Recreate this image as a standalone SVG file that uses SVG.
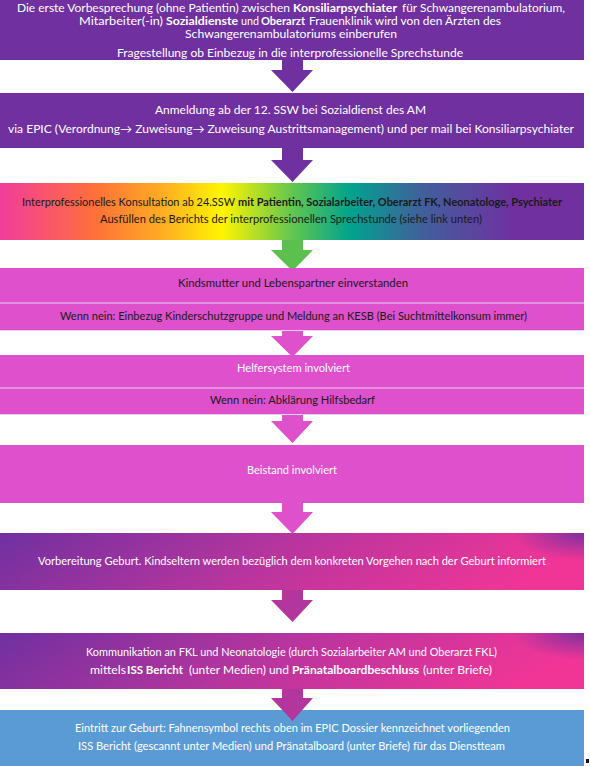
<svg xmlns="http://www.w3.org/2000/svg" width="590" height="766" viewBox="0 0 590 766">
<defs>
<style>
.t{font-family:Lato,"Open Sans","Liberation Sans",sans-serif;font-size:12px;text-anchor:middle}
.s{font-family:Lato,"Open Sans","Liberation Sans",sans-serif;font-size:12px;text-anchor:start}
.sm{font-size:10.8px}
.w{fill:#ffffff}
.d{fill:#1a1a1a}
.b{font-weight:bold}
.purple{fill:#7030A0}
.mag{fill:#DE50CC}
.sep{stroke:#E4D2F2;stroke-width:1.2;fill:none}
</style>
<linearGradient id="rainbow" x1="0" y1="0" x2="1" y2="0">
<stop offset="0" stop-color="#F23C9C"/>
<stop offset="0.16" stop-color="#FF6F3A"/>
<stop offset="0.28" stop-color="#FFAE22"/>
<stop offset="0.38" stop-color="#FFF500"/>
<stop offset="0.5" stop-color="#62C64E"/>
<stop offset="0.6" stop-color="#00A38E"/>
<stop offset="0.72" stop-color="#40609C"/>
<stop offset="0.88" stop-color="#7030A0"/>
<stop offset="1" stop-color="#7030A0"/>
</linearGradient>
<linearGradient id="pp" x1="0" y1="0" x2="1" y2="0.15">
<stop offset="0" stop-color="#7030A0"/>
<stop offset="0.5" stop-color="#B6359E"/>
<stop offset="1" stop-color="#F03597"/>
</linearGradient>
<radialGradient id="corner" cx="1" cy="0" r="0.12" gradientTransform="translate(1 0) scale(1 4) translate(-1 0)">
<stop offset="0" stop-color="#7030A0" stop-opacity="0.9"/>
<stop offset="1" stop-color="#7030A0" stop-opacity="0"/>
</radialGradient>
</defs>

<g id="connectors">
<polygon class="purple" points="282,60 303,60 303,70 313,70 292.5,92 271,70 282,70"/>
<polygon class="purple" points="282,148 303,148 303,160 313,160 292.5,182 271,160 282,160"/>
<polygon fill="#5CC04E" points="282,240 303,240 303,250 313,250 292.5,271 271,250 282,250"/>
<polygon class="mag" points="282,330 303,330 303,336 313,336 292.5,357 271,336 282,336"/>
<polygon class="mag" points="282,414 303,414 303,421 313,421 292.5,443 271,421 282,421"/>
<polygon class="mag" points="282,503 303,503 303,512 313,512 292.5,534 271,512 282,512"/>
<polygon fill="#B3369F" points="282,590 303,590 303,600 313,600 292.5,622 271,600 282,600"/>
</g>

<g id="n1">
<rect class="purple" x="0" y="0" width="584" height="60"/>
<text class="s sm w" x="17" y="11.5" textLength="273" lengthAdjust="spacingAndGlyphs">Die erste Vorbesprechung  (ohne Patientin) zwischen</text>
<text class="s sm w b" x="293" y="11.5" textLength="104" lengthAdjust="spacingAndGlyphs">Konsiliarpsychiater</text>
<text class="s sm w" x="402" y="11.5" textLength="163" lengthAdjust="spacingAndGlyphs">für Schwangerenambulatorium,</text>
<text class="s sm w" x="79" y="24.8" textLength="84" lengthAdjust="spacingAndGlyphs">Mitarbeiter(-in)</text>
<text class="s sm w b" x="166" y="24.8" textLength="72" lengthAdjust="spacingAndGlyphs">Sozialdienste</text>
<text class="s sm w" x="241" y="24.8" textLength="18" lengthAdjust="spacingAndGlyphs">und</text>
<text class="s sm w b" x="261" y="24.8" textLength="44" lengthAdjust="spacingAndGlyphs">Oberarzt</text>
<text class="s sm w" x="309" y="24.8" textLength="192" lengthAdjust="spacingAndGlyphs">Frauenklinik wird von den Ärzten des</text>
<text class="t sm w" x="291" y="38.1" textLength="212" lengthAdjust="spacingAndGlyphs">Schwangerenambulatoriums einberufen</text>
<text class="t w" x="290" y="57" textLength="346" lengthAdjust="spacingAndGlyphs">Fragestellung ob Einbezug in die interprofessionelle  Sprechstunde</text>
</g>

<g id="n2">
<rect class="purple" x="0" y="93" width="584" height="55"/>
<text class="t w" x="290.5" y="114" textLength="271" lengthAdjust="spacingAndGlyphs">Anmeldung ab der 12. SSW bei  Sozialdienst des AM</text>
<text class="t w" x="291" y="133" textLength="566" lengthAdjust="spacingAndGlyphs">via EPIC (Verordnung→ Zuweisung→ Zuweisung Austrittsmanagement)  und per mail bei Konsiliarpsychiater</text>
</g>

<g id="n3">
<rect fill="url(#rainbow)" x="0" y="183" width="584" height="57"/>
<text class="s d" x="22" y="206" textLength="213" lengthAdjust="spacingAndGlyphs">Interprofessionelles Konsultation ab 24.SSW</text>
<text class="s sm d b" x="238" y="206" textLength="324" lengthAdjust="spacingAndGlyphs">mit Patientin, Sozialarbeiter, Oberarzt FK, Neonatologe, Psychiater</text>
<text class="t d" x="291" y="223" textLength="382" lengthAdjust="spacingAndGlyphs">Ausfüllen des Berichts der interprofessionellen Sprechstunde (siehe  link unten)</text>
</g>

<g id="n4">
<rect class="mag" x="0" y="268" width="584" height="35"/>
<text class="t d" x="293" y="287" textLength="230" lengthAdjust="spacingAndGlyphs">Kindsmutter und Lebenspartner einverstanden</text>
</g>

<g id="n5">
<rect class="mag" x="0" y="303" width="584" height="27"/>
<line class="sep" x1="0" y1="303" x2="584" y2="303"/>
<line class="sep" x1="0" y1="330.5" x2="584" y2="330.5"/>
<text class="t d" x="293.5" y="320" textLength="467" lengthAdjust="spacingAndGlyphs">Wenn nein: Einbezug Kinderschutzgruppe und Meldung an KESB (Bei Suchtmittelkonsum immer)</text>
</g>

<g id="n6">
<rect class="mag" x="0" y="355" width="584" height="33"/>
<text class="t w" x="293.5" y="372" textLength="113" lengthAdjust="spacingAndGlyphs">Helfersystem involviert</text>
</g>

<g id="n7">
<rect class="mag" x="0" y="388" width="584" height="26"/>
<line class="sep" x1="0" y1="388" x2="584" y2="388"/>
<line class="sep" x1="0" y1="414.5" x2="584" y2="414.5"/>
<text class="t d" x="292.5" y="404" textLength="165" lengthAdjust="spacingAndGlyphs">Wenn nein: Abklärung Hilfsbedarf</text>
</g>

<g id="n8">
<rect class="mag" x="0" y="445" width="584" height="58"/>
<text class="t w" x="292" y="474" textLength="90" lengthAdjust="spacingAndGlyphs">Beistand involviert</text>
</g>

<g id="n9">
<rect fill="url(#pp)" x="0" y="533" width="584" height="57"/>
<rect fill="url(#corner)" x="0" y="533" width="584" height="57"/>
<text class="t w" x="292" y="565" textLength="508" lengthAdjust="spacingAndGlyphs">Vorbereitung Geburt. Kindseltern werden bezüglich dem konkreten Vorgehen nach der Geburt informiert</text>
</g>

<g id="n10">
<rect fill="url(#pp)" x="0" y="633" width="584" height="56"/>
<rect fill="url(#corner)" x="0" y="633" width="584" height="56"/>
<text class="t w" x="291.5" y="656" textLength="411" lengthAdjust="spacingAndGlyphs">Kommunikation an FKL und Neonatologie (durch Sozialarbeiter AM und Oberarzt FKL)</text>
<text class="s w" x="90" y="674" textLength="36" lengthAdjust="spacingAndGlyphs">mittels</text>
<text class="s w b" x="127" y="674" textLength="56" lengthAdjust="spacingAndGlyphs">ISS Bericht</text>
<text class="s w" x="189" y="674" textLength="100" lengthAdjust="spacingAndGlyphs">(unter Medien) und</text>
<text class="s w b" x="292" y="674" textLength="127" lengthAdjust="spacingAndGlyphs">Pränatalboardbeschluss</text>
<text class="s w" x="423" y="674" textLength="69" lengthAdjust="spacingAndGlyphs">(unter Briefe)</text>
</g>

<g id="n11">
<rect fill="#5B9BD5" x="0" y="710" width="584" height="56"/>
<text class="t w" x="292.5" y="732" textLength="435" lengthAdjust="spacingAndGlyphs">Eintritt zur Geburt: Fahnensymbol rechts oben  im EPIC Dossier kennzeichnet vorliegenden</text>
<text class="t w" x="291.5" y="750" textLength="427" lengthAdjust="spacingAndGlyphs">ISS Bericht (gescannt unter Medien) und Pränatalboard (unter Briefe) für das Dienstteam</text>
</g>

<g id="arrow8">
<polygon fill="#B3369F" points="282,689 303,689 303,698 313,698 292.5,721 271,698 282,698"/>
</g>
<rect x="586" y="759" width="3" height="4" fill="#111"/>
</svg>
